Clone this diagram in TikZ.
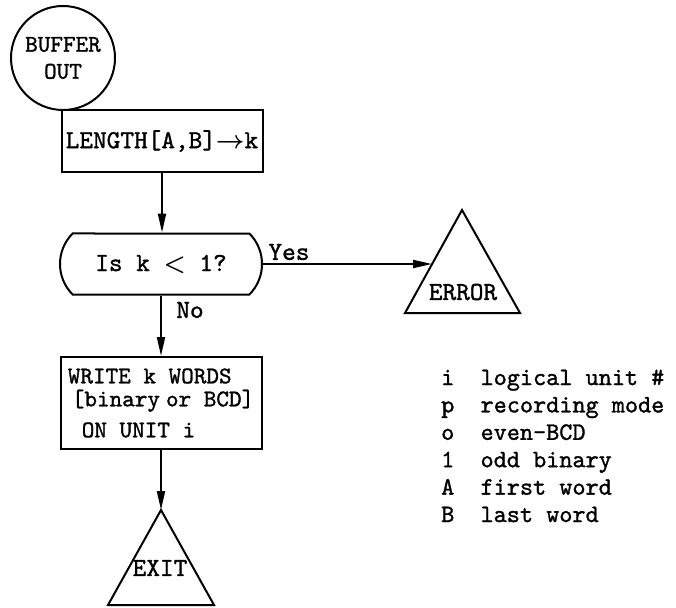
\documentclass[tikz,border=0pt]{standalone}
\usepackage{fontspec}
\usepackage{amsmath}
\newfontfamily\typer[UprightFeatures={FakeBold=1.2}]{lmmono10-regular.otf}
\usetikzlibrary{arrows.meta,shapes.misc}

\begin{document}
\begin{tikzpicture}[x=1pt,y=-1pt,
    every node/.style={font=\typer\fontsize{26}{27.4}\selectfont},
    line/.style={line width=2pt},
    flow/.style={line, -{Triangle[length=19pt,width=8pt]}},
    procbox/.style={draw, line, rectangle, inner sep=0pt},
    legend/.style={anchor=base west, inner sep=0pt, font=\typer\fontsize{25}{27.4}\selectfont}]
  \useasboundingbox (0,0) rectangle (676,607);
  % main column
  \node [draw, line, circle, minimum size=104pt, inner sep=0pt, align=center,
         font=\typer\fontsize{24}{27}\selectfont] (start) at (63,58) {BUFFER\\OUT};
  \node [procbox, minimum width=201pt, minimum height=62pt] (length) at (162,141) {LENGTH[A,B]$\boldsymbol{\rightarrow}$k};
  \node [draw, line, rounded rectangle, rounded rectangle arc length=90,
         minimum width=202pt, minimum height=61pt, inner sep=0pt] (test) at (161,264) {Is k $\boldsymbol{<}$ 1?};
  \node [procbox, minimum width=201pt, minimum height=92pt, align=left,
         font=\typer\fontsize{24}{23}\selectfont] (write) at (161,403)
        {WRITE k WORDS\\\hspace*{4pt}[binary\hspace{0.25em}or BCD]\\[8pt]\hspace*{14pt}ON UNIT i};
  \draw [flow] (length.south) -- (length.south |- test.north);
  \draw [flow] (test.south) -- (test.south |- write.north);
  \node (no) at (190,310) {No};
  % exit
  \coordinate (exittop) at (161,510);
  \draw [line] (exittop) -- (108,605) -- (214,605) -- cycle;
  \node (exitlabel) at (160,568) {EXIT};
  \draw [flow] (write.south) -- (write.south |- exittop);
  % error branch
  \coordinate (errtop) at (462,210);
  \coordinate (errin) at (432,264);
  \draw [line] (errtop) -- (405,313) -- (520,313) -- cycle;
  \node (errlabel) at (463,292) {ERROR};
  \draw [flow] (test.east) -- (errin);
  \node (yes) at (289,252) {Yes};
  % legend
  \node [legend] (legi) at (441,385) {i~~logical unit \#};
  \node [legend] (legp) at (441,412.4) {p~~recording mode};
  \node [legend] (lego) at (441,439.8) {o~~even-BCD};
  \node [legend] (legone) at (441,467.2) {1~~odd binary};
  \node [legend] (legA) at (441,494.6) {A~~first word};
  \node [legend] (legB) at (441,522) {B~~last word};
\end{tikzpicture}
\end{document}
